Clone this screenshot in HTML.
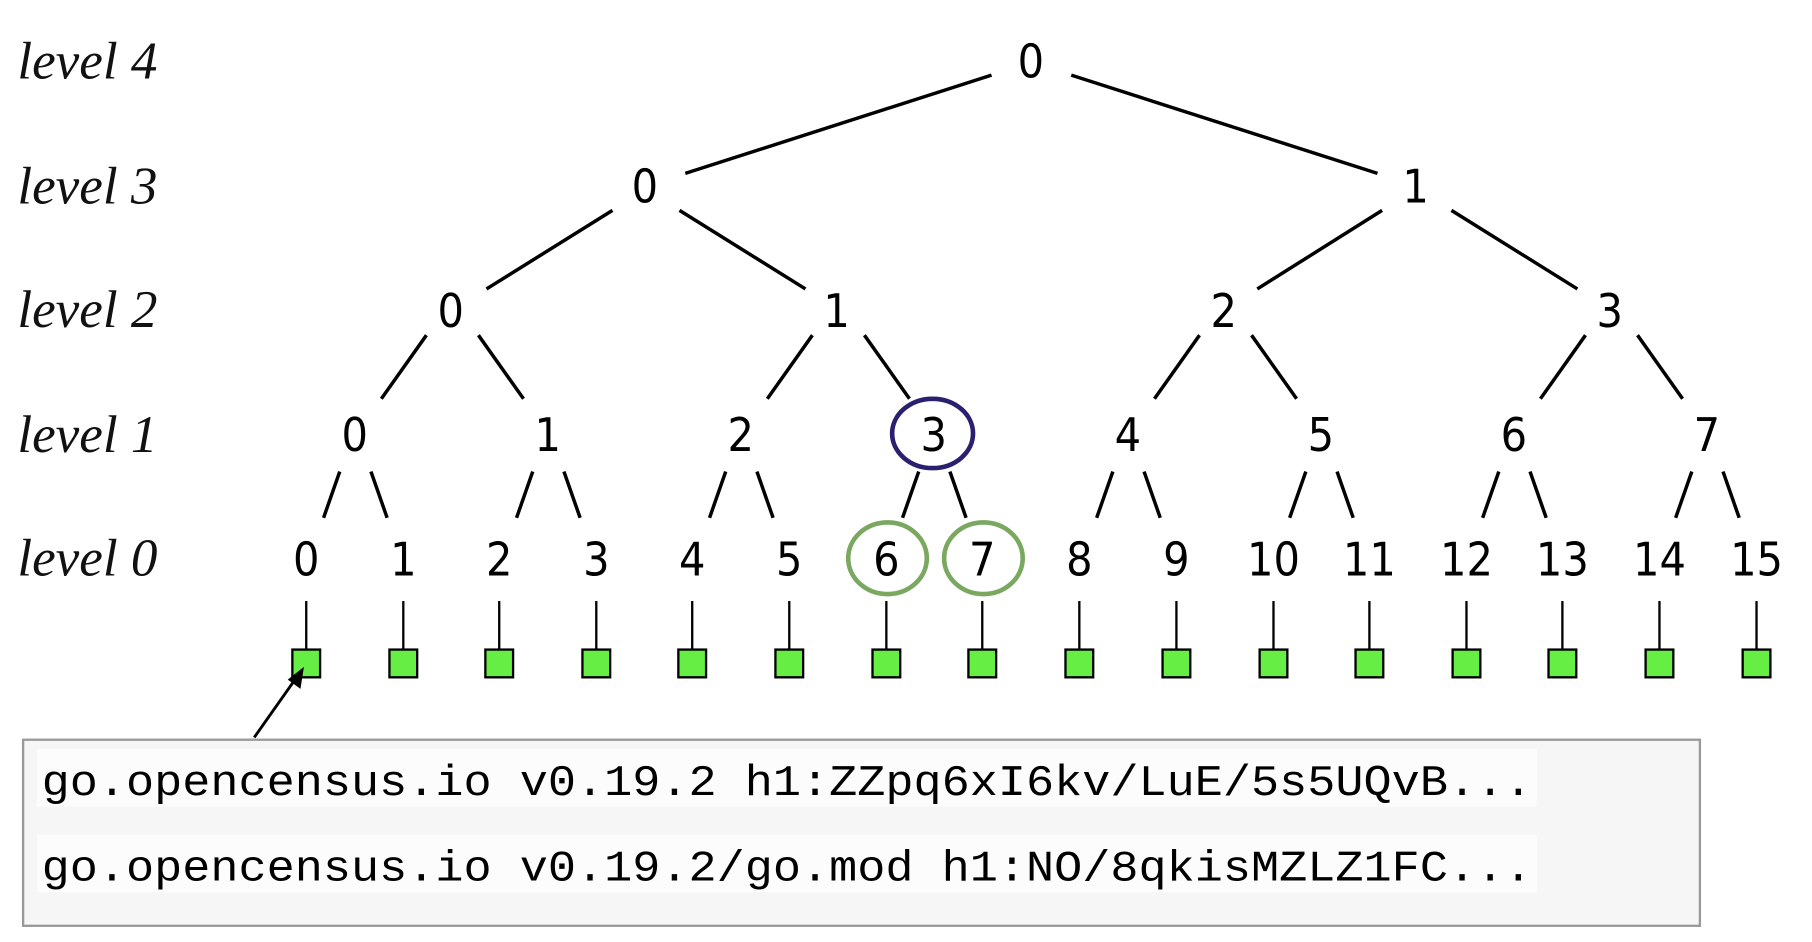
<!DOCTYPE html>
<html><head><style>html,body{margin:0;padding:0;background:#fff}svg{display:block}</style></head>
<body>
<svg width="1812" height="942" viewBox="0 0 1568 815" preserveAspectRatio="none" xmlns="http://www.w3.org/2000/svg">
<g font-family="Liberation Serif, serif" font-style="italic" font-size="46" fill="#111">
<text x="15" y="68">level 4</text>
<text x="15" y="176">level 3</text>
<text x="15" y="283">level 2</text>
<text x="15" y="391">level 1</text>
<text x="15" y="498">level 0</text>
</g>
<g stroke="#000" stroke-width="3" fill="none">
<line x1="858" y1="65" x2="593" y2="150"/><line x1="927" y1="65" x2="1192" y2="150"/>
<line x1="530" y1="182" x2="421" y2="250"/><line x1="588" y1="182" x2="697" y2="250"/>
<line x1="1196" y1="182" x2="1088" y2="250"/><line x1="1256" y1="182" x2="1365" y2="250"/>
<line x1="369" y1="290" x2="330" y2="345"/><line x1="414" y1="290" x2="453" y2="345"/>
<line x1="703" y1="290" x2="664" y2="345"/><line x1="748" y1="290" x2="787" y2="345"/>
<line x1="1038" y1="290" x2="999" y2="345"/><line x1="1083" y1="290" x2="1122" y2="345"/>
<line x1="1372" y1="290" x2="1333" y2="345"/><line x1="1417" y1="290" x2="1456" y2="345"/>
<line x1="294" y1="408" x2="280" y2="448"/><line x1="321" y1="408" x2="335" y2="448"/>
<line x1="461" y1="408" x2="447" y2="448"/><line x1="488" y1="408" x2="502" y2="448"/>
<line x1="628" y1="408" x2="614" y2="448"/><line x1="655" y1="408" x2="669" y2="448"/>
<line x1="795" y1="408" x2="781" y2="448"/><line x1="822" y1="408" x2="836" y2="448"/>
<line x1="963" y1="408" x2="949" y2="448"/><line x1="990" y1="408" x2="1004" y2="448"/>
<line x1="1130" y1="408" x2="1116" y2="448"/><line x1="1157" y1="408" x2="1171" y2="448"/>
<line x1="1297" y1="408" x2="1283" y2="448"/><line x1="1324" y1="408" x2="1338" y2="448"/>
<line x1="1464" y1="408" x2="1450" y2="448"/><line x1="1491" y1="408" x2="1505" y2="448"/>
</g>
<g font-family="DejaVu Sans Condensed, DejaVu Sans, sans-serif" font-size="40" fill="#000" text-anchor="middle">
<text x="892" y="67">0</text>
<text x="558" y="175">0</text><text x="1225" y="175">1</text>
<text x="390" y="283">0</text><text x="724" y="283">1</text><text x="1059" y="283">2</text><text x="1393" y="283">3</text>
<text x="307" y="390">0</text><text x="474" y="390">1</text><text x="641" y="390">2</text><text x="808" y="390">3</text><text x="976" y="390">4</text><text x="1143" y="390">5</text><text x="1310" y="390">6</text><text x="1477" y="390">7</text>
<text x="265" y="498">0</text><text x="349" y="498">1</text><text x="432" y="498">2</text><text x="516" y="498">3</text><text x="599" y="498">4</text><text x="683" y="498">5</text><text x="767" y="498">6</text><text x="850" y="498">7</text><text x="934" y="498">8</text><text x="1018" y="498">9</text><text x="1102" y="498">10</text><text x="1185" y="498">11</text><text x="1269" y="498">12</text><text x="1352" y="498">13</text><text x="1436" y="498">14</text><text x="1520" y="498">15</text>
</g>
<ellipse cx="807" cy="375" rx="35" ry="30" fill="none" stroke="#2a2070" stroke-width="4"/>
<ellipse cx="768" cy="483" rx="34" ry="31" fill="none" stroke="#7aa860" stroke-width="4"/>
<ellipse cx="851" cy="483" rx="34" ry="31" fill="none" stroke="#7aa860" stroke-width="4"/>
<g stroke="#000" stroke-width="2">
<g id="lf"></g>
</g>
<g stroke="#000" stroke-width="2" fill="#66ee44">
<line x1="265" y1="520" x2="265" y2="562"/><rect x="253" y="562" width="24" height="24"/>
<line x1="349" y1="520" x2="349" y2="562"/><rect x="337" y="562" width="24" height="24"/>
<line x1="432" y1="520" x2="432" y2="562"/><rect x="420" y="562" width="24" height="24"/>
<line x1="516" y1="520" x2="516" y2="562"/><rect x="504" y="562" width="24" height="24"/>
<line x1="599" y1="520" x2="599" y2="562"/><rect x="587" y="562" width="24" height="24"/>
<line x1="683" y1="520" x2="683" y2="562"/><rect x="671" y="562" width="24" height="24"/>
<line x1="767" y1="520" x2="767" y2="562"/><rect x="755" y="562" width="24" height="24"/>
<line x1="850" y1="520" x2="850" y2="562"/><rect x="838" y="562" width="24" height="24"/>
<line x1="934" y1="520" x2="934" y2="562"/><rect x="922" y="562" width="24" height="24"/>
<line x1="1018" y1="520" x2="1018" y2="562"/><rect x="1006" y="562" width="24" height="24"/>
<line x1="1102" y1="520" x2="1102" y2="562"/><rect x="1090" y="562" width="24" height="24"/>
<line x1="1185" y1="520" x2="1185" y2="562"/><rect x="1173" y="562" width="24" height="24"/>
<line x1="1269" y1="520" x2="1269" y2="562"/><rect x="1257" y="562" width="24" height="24"/>
<line x1="1352" y1="520" x2="1352" y2="562"/><rect x="1340" y="562" width="24" height="24"/>
<line x1="1436" y1="520" x2="1436" y2="562"/><rect x="1424" y="562" width="24" height="24"/>
<line x1="1520" y1="520" x2="1520" y2="562"/><rect x="1508" y="562" width="24" height="24"/>
</g>
<line x1="220" y1="638" x2="256" y2="587" stroke="#000" stroke-width="2.5"/>
<polygon points="263,577 260,596 249,588" fill="#000"/>
<rect x="20" y="640" width="1451" height="161" fill="#f6f6f6" stroke="#999" stroke-width="2"/>
<rect x="32" y="648" width="1298" height="50" fill="#fcfcfc"/>
<rect x="32" y="722" width="1298" height="50" fill="#fcfcfc"/>
<g font-family="Liberation Mono, monospace" font-size="38" fill="#000">
<text x="36" y="688" textLength="1290" lengthAdjust="spacingAndGlyphs">go.opencensus.io v0.19.2 h1:ZZpq6xI6kv/LuE/5s5UQvB...</text>
<text x="36" y="762" textLength="1290" lengthAdjust="spacingAndGlyphs">go.opencensus.io v0.19.2/go.mod h1:NO/8qkisMZLZ1FC...</text>
</g>
</svg>
</body></html>
